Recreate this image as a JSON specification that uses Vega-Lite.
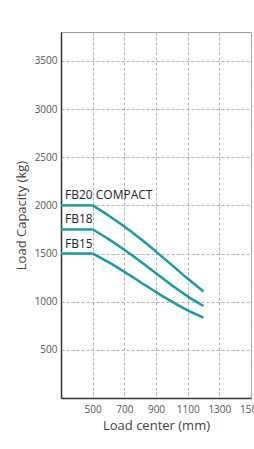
{
  "$schema": "https://vega.github.io/schema/vega-lite/v6.json",
  "width": 190,
  "height": 366,
  "autosize": {"type": "none"},
  "padding": {"left": 61, "top": 32, "right": 3, "bottom": 51},
  "background": "white",
  "config": {
    "font": "Open Sans",
    "view": {"stroke": "#9a9a9a", "strokeWidth": 1}
  },
  "datasets": {
    "flat": [
      {"model": "FB20", "center": 300, "capacity": 2000},
      {"model": "FB20", "center": 500, "capacity": 2000},
      {"model": "FB18", "center": 300, "capacity": 1750},
      {"model": "FB18", "center": 500, "capacity": 1750},
      {"model": "FB15", "center": 300, "capacity": 1500},
      {"model": "FB15", "center": 500, "capacity": 1500}
    ],
    "curve": [
      {"model": "FB20", "center": 500, "capacity": 2000},
      {"model": "FB20", "center": 600, "capacity": 1895},
      {"model": "FB20", "center": 700, "capacity": 1780},
      {"model": "FB20", "center": 800, "capacity": 1655},
      {"model": "FB20", "center": 900, "capacity": 1520},
      {"model": "FB20", "center": 1000, "capacity": 1380},
      {"model": "FB20", "center": 1100, "capacity": 1240},
      {"model": "FB20", "center": 1200, "capacity": 1105},
      {"model": "FB18", "center": 500, "capacity": 1750},
      {"model": "FB18", "center": 600, "capacity": 1650},
      {"model": "FB18", "center": 700, "capacity": 1540},
      {"model": "FB18", "center": 800, "capacity": 1420},
      {"model": "FB18", "center": 900, "capacity": 1295},
      {"model": "FB18", "center": 1000, "capacity": 1170},
      {"model": "FB18", "center": 1100, "capacity": 1055},
      {"model": "FB18", "center": 1200, "capacity": 955},
      {"model": "FB15", "center": 500, "capacity": 1500},
      {"model": "FB15", "center": 600, "capacity": 1410},
      {"model": "FB15", "center": 700, "capacity": 1310},
      {"model": "FB15", "center": 800, "capacity": 1205},
      {"model": "FB15", "center": 900, "capacity": 1100},
      {"model": "FB15", "center": 1000, "capacity": 1000},
      {"model": "FB15", "center": 1100, "capacity": 910},
      {"model": "FB15", "center": 1200, "capacity": 835}
    ],
    "labels": [
      {"label": "FB20 COMPACT", "center": 325, "capacity": 2000},
      {"label": "FB18", "center": 325, "capacity": 1750},
      {"label": "FB15", "center": 325, "capacity": 1500}
    ]
  },
  "encoding": {
    "x": {
      "field": "center",
      "type": "quantitative",
      "scale": {"domain": [300, 1500], "nice": false, "zero": false},
      "axis": {
        "title": "Load center (mm)",
        "values": [500, 700, 900, 1100, 1300, 1500],
        "format": "d",
        "ticks": false,
        "domainColor": "#333",
        "domainWidth": 1.5,
        "labelColor": "#555",
        "labelFontSize": 10,
        "labelPadding": 6,
        "labelFlush": false,
        "labelOverlap": false,
        "labelBound": false,
        "gridColor": "#b0b0b0",
        "gridDash": [3, 2],
        "titleFontSize": 13,
        "titleFontWeight": "normal",
        "titleColor": "#444",
        "titlePadding": 5
      }
    },
    "y": {
      "field": "capacity",
      "type": "quantitative",
      "scale": {"domain": [0, 3800], "nice": false},
      "axis": {
        "title": "Load Capacity (kg)",
        "values": [500, 1000, 1500, 2000, 2500, 3000, 3500],
        "format": "d",
        "ticks": false,
        "domainColor": "#333",
        "domainWidth": 1.5,
        "labelColor": "#555",
        "labelFontSize": 10,
        "labelPadding": 4,
        "gridColor": "#b0b0b0",
        "gridDash": [3, 2],
        "titleFontSize": 13,
        "titleFontWeight": "normal",
        "titleColor": "#444",
        "titlePadding": 6
      }
    }
  },
  "layer": [
    {
      "data": {"name": "flat"},
      "mark": {"type": "line", "color": "#1b9aa6", "strokeWidth": 2.5, "clip": true},
      "encoding": {"detail": {"field": "model", "type": "nominal"}}
    },
    {
      "data": {"name": "curve"},
      "mark": {"type": "line", "color": "#1b9aa6", "strokeWidth": 2.5, "interpolate": "monotone", "clip": true},
      "encoding": {"detail": {"field": "model", "type": "nominal"}}
    },
    {
      "data": {"name": "labels"},
      "mark": {"type": "text", "align": "left", "baseline": "bottom", "dy": -3, "fontSize": 12, "color": "#222"},
      "encoding": {"text": {"field": "label"}}
    }
  ]
}
